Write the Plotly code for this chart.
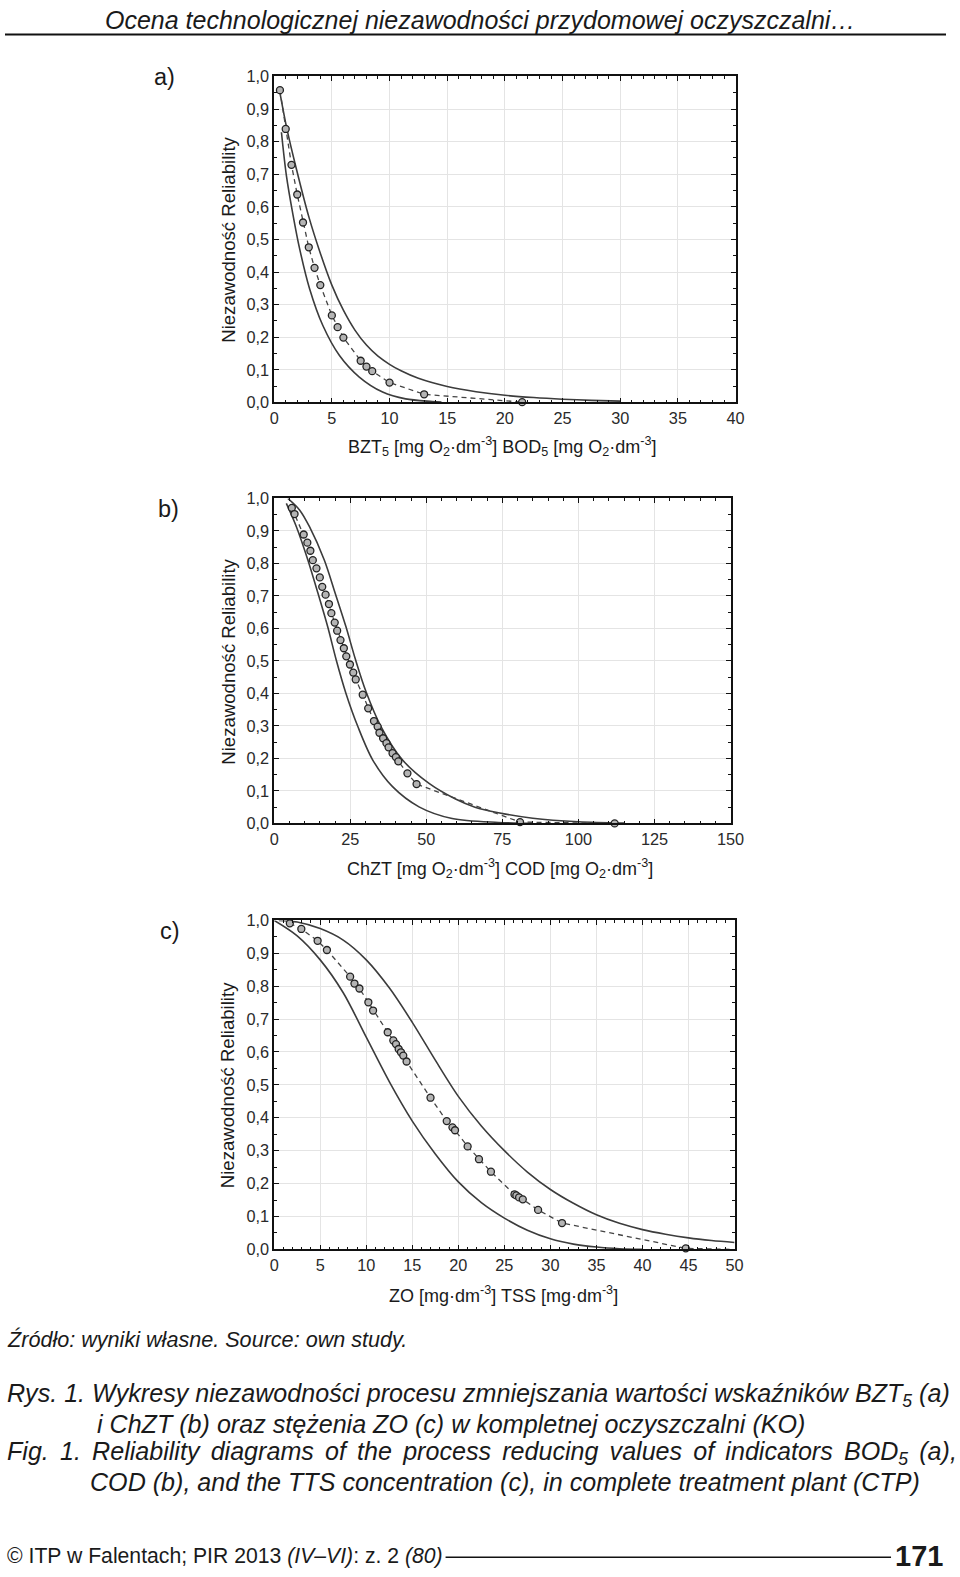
import plotly.graph_objects as go

# ---------------- data ----------------
# Panel a) BZT5 / BOD5
pts_a_x = [0.5, 1.0, 1.5, 2.0, 2.5, 3.0, 3.5, 4.0, 5.0, 5.5, 6.0, 7.5, 8.0, 8.5, 10.0, 13.0, 21.5]
pts_a_y = [0.958, 0.839, 0.729, 0.638, 0.552, 0.476, 0.413, 0.360, 0.267, 0.231, 0.199, 0.128, 0.110, 0.096, 0.061, 0.025, 0.001]
upper_a_x = [0.45, 1.1, 1.9, 3.0, 4.0, 5.0, 6.0, 7.0, 8.0, 9.0, 10.0, 11.0, 12.5, 15.0, 17.5, 20.0, 22.5, 25.0, 27.5, 30.0]
upper_a_y = [0.96, 0.84, 0.72, 0.57, 0.458, 0.36, 0.283, 0.222, 0.176, 0.142, 0.117, 0.097, 0.074, 0.049, 0.033, 0.022, 0.015, 0.010, 0.0065, 0.004]
lower_a_x = [0.63, 1.06, 1.64, 2.21, 3.07, 4.22, 5.66, 7.38, 9.4, 11.4, 13.7, 14.5]
lower_a_y = [0.829, 0.696, 0.574, 0.471, 0.349, 0.236, 0.144, 0.078, 0.032, 0.011, 0.003, 0.001]

# Panel b) ChZT / COD
pts_b_x = [5.8, 6.7, 9.7, 10.9, 11.9, 12.7, 13.9, 15.0, 15.8, 16.9, 18.0, 18.8, 19.9, 20.7, 21.8,
           22.9, 23.7, 24.9, 26.0, 26.8, 29.1, 30.9, 32.8, 34.0, 34.6, 35.8, 36.9, 37.6, 38.9, 40.0,
           40.8, 43.8, 46.8, 80.8, 111.9]
pts_b_y = [0.971, 0.952, 0.889, 0.864, 0.839, 0.810, 0.785, 0.757, 0.728, 0.704, 0.675, 0.647, 0.618,
           0.593, 0.564, 0.539, 0.514, 0.489, 0.464, 0.443, 0.396, 0.354, 0.315, 0.298, 0.279, 0.262,
           0.247, 0.234, 0.216, 0.204, 0.191, 0.154, 0.121, 0.004, 0.0]
upper_b_x = [4.5, 8.4, 11.6, 16.5, 20.0, 23.6, 26.7, 30.2, 35.1, 42.2, 50.9, 59.6, 66.0, 73.7, 85.0, 100.0, 115.0]
upper_b_y = [1.0, 0.964, 0.913, 0.81, 0.71, 0.605, 0.505, 0.405, 0.298, 0.195, 0.123, 0.075, 0.05, 0.033, 0.016, 0.005, 0.001]
lower_b_x = [4.0, 7.3, 11.1, 14.4, 17.6, 20.4, 23.6, 27.5, 32.4, 38.9, 47.6, 58.5, 73.7, 85.0]
lower_b_y = [0.985, 0.913, 0.81, 0.708, 0.605, 0.503, 0.40, 0.298, 0.195, 0.113, 0.051, 0.015, 0.003, 0.0]

# Panel c) ZO / TSS
pts_c_x = [1.7, 2.95, 4.72, 5.73, 8.25, 8.72, 9.26, 10.23, 10.74, 12.33, 12.94, 13.23, 13.52, 13.77,
           14.02, 14.38, 16.98, 18.74, 19.36, 19.64, 21.01, 22.24, 23.54, 26.1, 26.3, 26.6, 27.0,
           28.66, 31.26, 44.7]
pts_c_y = [0.991, 0.974, 0.938, 0.910, 0.829, 0.808, 0.793, 0.751, 0.726, 0.660, 0.635, 0.624, 0.609,
           0.599, 0.589, 0.571, 0.461, 0.390, 0.371, 0.362, 0.313, 0.274, 0.236, 0.167, 0.164, 0.158,
           0.152, 0.120, 0.080, 0.003]
upper_c_x = [0.5, 2.5, 5.0, 7.5, 10.0, 12.5, 15.0, 17.5, 20.0, 22.5, 25.0, 27.5, 30.0, 32.5, 35.0, 37.5, 40.0, 42.5, 45.0, 47.5, 50.0]
upper_c_y = [1.0, 0.995, 0.975, 0.94, 0.88, 0.795, 0.69, 0.575, 0.465, 0.375, 0.30, 0.235, 0.182, 0.14, 0.105, 0.079, 0.06, 0.046, 0.035, 0.027, 0.021]
lower_c_x = [0.0, 2.5, 5.0, 7.5, 10.0, 12.5, 15.0, 17.5, 20.0, 22.5, 25.0, 27.5, 30.0, 32.5, 35.0, 37.5, 40.0]
lower_c_y = [1.0, 0.953, 0.88, 0.78, 0.645, 0.51, 0.39, 0.29, 0.205, 0.142, 0.095, 0.058, 0.032, 0.016, 0.007, 0.002, 0.0]
tail_c_x = [49.5]
tail_c_y = [0.0]

y_ticks = [0.0, 0.1, 0.2, 0.3, 0.4, 0.5, 0.6, 0.7, 0.8, 0.9, 1.0]
x_ticks_a = [0, 5, 10, 15, 20, 25, 30, 35, 40]
x_ticks_b = [0, 25, 50, 75, 100, 125, 150]
x_ticks_c = [0, 5, 10, 15, 20, 25, 30, 35, 40, 45, 50]

# ---------------- layout helpers ----------------
W, H = 960, 1577
# the photographed page comes out slightly scaled/offset; compensate
SX, OX = 0.9836, 2.95
SY, OY = 0.9887, 8.6


def px_x(px):
    p = px / SX - OX
    return min(max(p / W, 0), 1)


def px_y(py):
    p = py / SY - OY
    return min(max(1 - p / H, 0), 1)


panels = [
    # (suffix, x_left, x_right, y_top, y_bottom, xticks, minor_dx)
    ("", 273, 736, 76, 402, x_ticks_a, 1),
    ("2", 273, 731, 498, 823, x_ticks_b, 5),
    ("3", 273, 735, 920, 1249, x_ticks_c, 1),
]

data_sets = [
    (pts_a_x, pts_a_y, upper_a_x, upper_a_y, lower_a_x, lower_a_y, pts_a_x, pts_a_y),
    (pts_b_x, pts_b_y, upper_b_x, upper_b_y, lower_b_x, lower_b_y, pts_b_x, pts_b_y),
    (pts_c_x, pts_c_y, upper_c_x, upper_c_y, lower_c_x, lower_c_y,
     pts_c_x + tail_c_x, pts_c_y + tail_c_y),
]

fig = go.Figure()
line_col = "#3c3c3c"
tick_font = dict(family="Liberation Sans, Arial, sans-serif", size=16.3, color="#2a2a2a")

for (suf, xl, xr, yt, yb, xt, mdx), (px_, py_, ux, uy, lx, ly, fx, fy) in zip(panels, data_sets):
    xa = "x" + suf
    ya = "y" + suf
    fig.add_trace(go.Scatter(x=ux, y=uy, mode="lines", line=dict(color=line_col, width=1.6, shape="spline", smoothing=0.9),
                             xaxis=xa, yaxis=ya, showlegend=False, hoverinfo="skip"))
    fig.add_trace(go.Scatter(x=lx, y=ly, mode="lines", line=dict(color=line_col, width=1.6, shape="spline", smoothing=0.9),
                             xaxis=xa, yaxis=ya, showlegend=False, hoverinfo="skip"))
    fig.add_trace(go.Scatter(x=fx, y=fy, mode="lines", line=dict(color="#444444", width=1.3, dash="5px,4px"),
                             xaxis=xa, yaxis=ya, showlegend=False, hoverinfo="skip"))
    fig.add_trace(go.Scatter(x=px_, y=py_, mode="markers", cliponaxis=False,
                             marker=dict(symbol="circle", size=7, color="#b4b4b4",
                                         line=dict(color="#222222", width=1.3)),
                             xaxis=xa, yaxis=ya, showlegend=False))
    common = dict(showline=True, linecolor="#111111", linewidth=1.5, mirror="ticks",
                  ticks="inside", ticklen=5, tickwidth=1, tickcolor="#111111",
                  showgrid=True, gridcolor="#e4e4e4", gridwidth=1, zeroline=False,
                  tickfont=tick_font)
    fig.layout["xaxis" + suf] = dict(domain=[px_x(xl), px_x(xr)], anchor=ya, range=[0, xt[-1]],
                                     tickmode="array", tickvals=xt, ticktext=[str(v) for v in xt],
                                     minor=dict(ticks="inside", ticklen=3, dtick=mdx, tickcolor="#111111", showgrid=False),
                                     **common)
    fig.layout["yaxis" + suf] = dict(domain=[px_y(yb), px_y(yt)], anchor=xa, range=[0, 1],
                                     tickmode="array", tickvals=y_ticks,
                                     ticktext=[f"{v:.1f}".replace(".", ",") for v in y_ticks],
                                     minor=dict(ticks="inside", ticklen=3, dtick=0.05, tickcolor="#111111", showgrid=False),
                                     **common)

ann = []
sans = "Liberation Sans, Arial, sans-serif"


def add_text(text, x, y, size, family=sans, xanchor="left", yanchor="middle", angle=0, color="#1a1a1a"):
    ann.append(dict(text=text, x=px_x(x), y=px_y(y), xref="paper", yref="paper", showarrow=False,
                    xanchor=xanchor, yanchor=yanchor, textangle=angle,
                    font=dict(family=family, size=size, color=color)))


HS = "\u200a"  # hair space used to widen the justified caption line

# header
add_text("<i>Ocena technologicznej niezawodności przydomowej oczyszczalni…</i>", 480, 20, 25, sans, "center")
# panel labels
add_text("a)", 163, 76.5, 23.5, sans, "center")
add_text("b)", 167, 508.5, 23.5, sans, "center")
add_text("c)", 168, 930.5, 23.5, sans, "center")
# y axis titles
for yc in [239, 661, 1084.5]:
    add_text("Niezawodność Reliability", 227, yc, 18.6, sans, "center", "middle", -90)
# x axis titles
add_text("BZT<sub>5</sub> [mg O<sub>2</sub>·dm<sup>-3</sup>] BOD<sub>5</sub> [mg O<sub>2</sub>·dm<sup>-3</sup>]",
         502, 446, 18, sans, "center")
add_text("ChZT [mg O<sub>2</sub>·dm<sup>-3</sup>] COD [mg O<sub>2</sub>·dm<sup>-3</sup>]",
         500, 868.5, 18, sans, "center")
add_text("ZO [mg·dm<sup>-3</sup>] TSS [mg·dm<sup>-3</sup>]", 503, 1294.5, 18, sans, "center")
# source
add_text("<i>Źródło: wyniki własne. Source: own study.</i>", 1, 1339, 21.6, sans)
# caption
add_text("<i>Rys. 1. Wykresy niezawodności procesu zmniejszania wartości wskaźników BZT<sub>5</sub> (a)</i>",
         1, 1395, 25.1, sans)
add_text("<i>i ChZT (b) oraz stężenia ZO (c) w kompletnej oczyszczalni (KO)</i>", 93.5, 1424, 25.1, sans)
fig_line = "Fig. 1. Reliability diagrams of the process reducing values of indicators BOD<sub>5</sub> (a),"
add_text("<i>" + fig_line.replace(" ", " " + HS + HS) + "</i>", 1, 1453, 25.1, sans)
add_text("<i>COD (b), and the TTS concentration (c), in complete treatment plant (CTP)</i>", 86.5, 1481.5, 25.1, sans)
# footer
add_text("© ITP w Falentach; PIR 2013 <i>(IV–VI)</i>: z. 2 <i>(80)</i>", 1, 1556, 21.2, sans)
add_text("<b>171</b>", 946, 1556, 29, sans, "right")

fig.update_layout(
    annotations=ann,
    shapes=[
        dict(type="line", xref="paper", yref="paper", x0=px_x(0), x1=px_x(957), y0=px_y(34), y1=px_y(34),
             line=dict(color="#111111", width=2)),
        dict(type="line", xref="paper", yref="paper", x0=px_x(445), x1=px_x(892), y0=px_y(1557), y1=px_y(1557),
             line=dict(color="#111111", width=1.5)),
    ],
    width=W, height=H, autosize=False,
    margin=dict(l=0, r=0, t=0, b=0),
    paper_bgcolor="white", plot_bgcolor="white",
    showlegend=False,
)

fig.write_html("out.html", config={"displayModeBar": False},
               post_script="document.body.style.margin='0';document.body.style.overflow='hidden';")
